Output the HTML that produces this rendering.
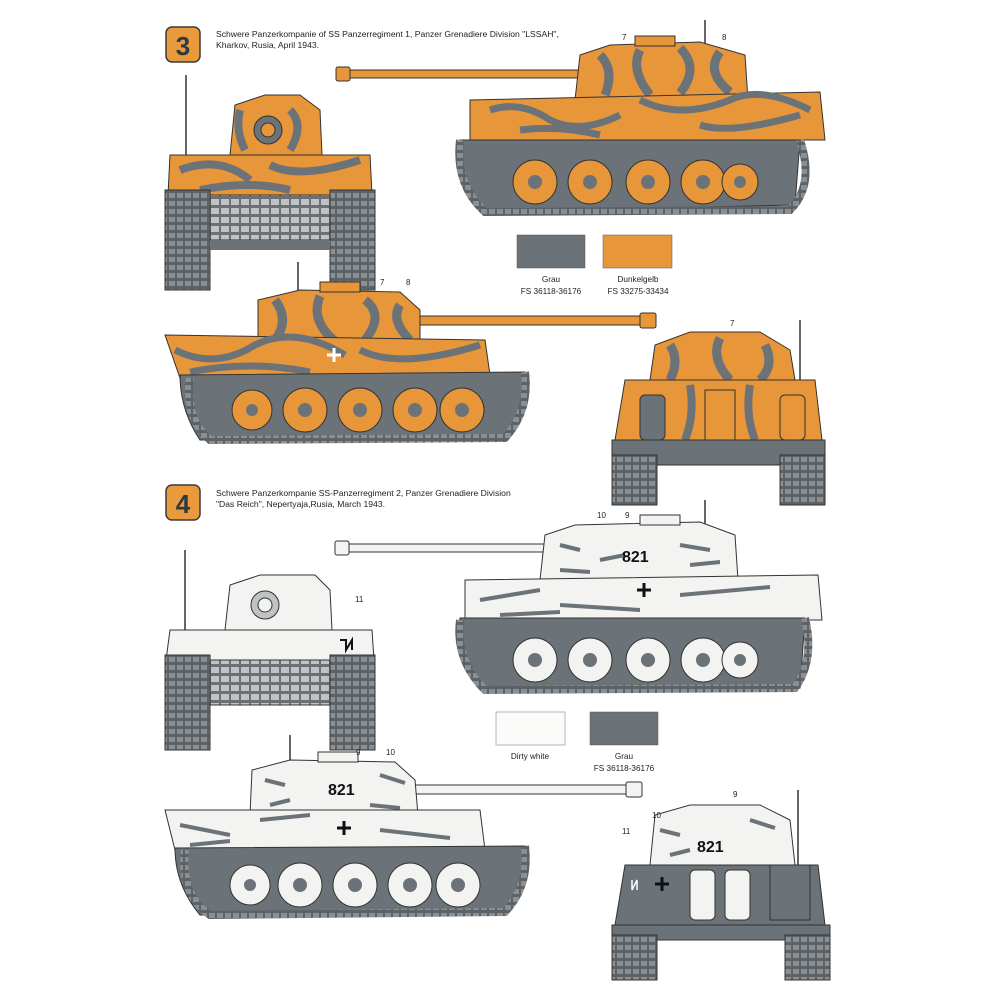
<!DOCTYPE html>
<html><head><meta charset="utf-8"><style>
html,body{margin:0;padding:0;background:#fff}
svg{display:block}
text{font-family:"Liberation Sans",sans-serif}
</style></head><body>
<svg width="1000" height="1000" viewBox="0 0 1000 1000" xmlns="http://www.w3.org/2000/svg">
<defs>
<pattern id="trk" width="8" height="8" patternUnits="userSpaceOnUse"><rect width="8" height="8" fill="#5d6266"/><rect x="1" y="1" width="6" height="5" fill="#8a8f93"/></pattern>
<pattern id="grill" width="10" height="9" patternUnits="userSpaceOnUse"><rect width="10" height="9" fill="#6b7075"/><rect x="1" y="1" width="8" height="6" fill="#bfc3c6"/></pattern>
</defs>

<!-- badge 3 -->
<rect x="166" y="27" width="34" height="35" rx="6" fill="#e89a3c" stroke="#3a3a3a" stroke-width="1.5"/>
<text x="183" y="55" font-size="26" font-weight="bold" fill="#2d3a3f" text-anchor="middle">3</text>
<text x="216" y="37" font-size="8.6" fill="#222">Schwere Panzerkompanie of SS Panzerregiment 1, Panzer Grenadiere Division "LSSAH",</text>
<text x="216" y="48" font-size="8.6" fill="#222">Kharkov, Rusia, April 1943.</text>

<!-- TANK 3 side, gun left -->
<g>
<rect x="340" y="70" width="240" height="8" fill="#e8963a" stroke="#333" stroke-width="1"/>
<rect x="336" y="67" width="14" height="14" rx="2" fill="#e8963a" stroke="#333"/>
<line x1="705" y1="20" x2="705" y2="60" stroke="#333" stroke-width="1.5"/>
<path d="M575 100 L580 55 L610 45 L700 42 L745 55 L748 100 Z" fill="#e8963a" stroke="#333"/>
<rect x="635" y="36" width="40" height="10" fill="#e8963a" stroke="#333"/>
<path d="M600 55 q15 15 5 40 M640 50 q-10 20 10 45 M680 48 q20 20 0 45 M720 52 q-15 20 10 40" stroke="#6b7378" stroke-width="9" fill="none"/>
<path d="M470 100 L820 92 L825 140 L470 140 Z" fill="#e8963a" stroke="#333"/>
<path d="M490 110 q30 -10 60 10 q30 15 70 -5 M640 100 q40 20 90 0 q30 -15 80 10 M520 130 q40 -5 80 5 M700 125 q30 10 100 -10" stroke="#6b7378" stroke-width="7" fill="none"/>
<path d="M460 140 L800 140 L795 205 L480 212 Q455 180 460 140 Z" fill="#6b7378" stroke="#333"/>
<path d="M460 140 Q455 185 485 212 L790 210 Q815 185 800 140" fill="none" stroke="url(#trk)" stroke-width="8"/>
<g fill="#e8963a" stroke="#333"><circle cx="535" cy="182" r="22"/><circle cx="590" cy="182" r="22"/><circle cx="648" cy="182" r="22"/><circle cx="703" cy="182" r="22"/><circle cx="740" cy="182" r="18"/></g>
<g fill="#6b7378"><circle cx="535" cy="182" r="7"/><circle cx="590" cy="182" r="7"/><circle cx="648" cy="182" r="7"/><circle cx="703" cy="182" r="7"/><circle cx="740" cy="182" r="6"/></g>
<text x="622" y="40" font-size="8" fill="#222">7</text><text x="722" y="40" font-size="8" fill="#222">8</text>
</g>

<!-- TANK 3 front -->
<g>
<line x1="186" y1="75" x2="186" y2="155" stroke="#333" stroke-width="1.5"/>
<path d="M230 155 L235 105 L265 95 L300 95 L320 110 L322 155 Z" fill="#e8963a" stroke="#333"/>
<circle cx="268" cy="130" r="14" fill="#6b7378" stroke="#333"/><circle cx="268" cy="130" r="7" fill="#e8963a" stroke="#333"/>
<path d="M290 110 q15 15 0 40 M240 110 q-5 20 5 40" stroke="#6b7378" stroke-width="8" fill="none"/>
<path d="M170 155 L370 155 L372 195 L168 195 Z" fill="#e8963a" stroke="#333"/>
<path d="M180 170 q40 -15 70 10 M270 165 q30 15 90 -5 M200 190 q50 -10 90 0" stroke="#6b7378" stroke-width="8" fill="none"/>
<rect x="210" y="195" width="120" height="45" fill="url(#grill)" stroke="#333"/>
<rect x="165" y="190" width="45" height="100" fill="url(#trk)" stroke="#333"/>
<rect x="330" y="190" width="45" height="100" fill="url(#trk)" stroke="#333"/>
<rect x="210" y="240" width="120" height="10" fill="#6b7378"/>
</g>

<!-- swatches 3 -->
<rect x="517" y="235" width="68" height="33" fill="#6b7378" stroke="#555" stroke-width=".5"/>
<rect x="603" y="235" width="69" height="33" fill="#e8963a" stroke="#555" stroke-width=".5"/>
<g font-size="8.2" fill="#222" text-anchor="middle">
<text x="551" y="282">Grau</text><text x="551" y="294">FS 36118-36176</text>
<text x="638" y="282">Dunkelgelb</text><text x="638" y="294">FS 33275-33434</text>
</g>

<!-- TANK 3 side 2, gun right -->
<g>
<line x1="298" y1="262" x2="298" y2="300" stroke="#333" stroke-width="1.5"/>
<rect x="420" y="316" width="230" height="9" fill="#e8963a" stroke="#333"/>
<rect x="640" y="313" width="16" height="15" rx="2" fill="#e8963a" stroke="#333"/>
<path d="M258 340 L258 300 L300 290 L400 292 L420 310 L420 345 Z" fill="#e8963a" stroke="#333"/>
<rect x="320" y="282" width="40" height="10" fill="#e8963a" stroke="#333"/>
<path d="M275 300 q15 20 0 40 M320 296 q-10 25 15 45 M365 300 q20 15 0 40 M400 305 q-10 15 10 35" stroke="#6b7378" stroke-width="9" fill="none"/>
<path d="M165 335 L485 340 L490 375 L180 378 Z" fill="#e8963a" stroke="#333"/>
<path d="M175 350 q40 20 80 -5 q40 -20 90 10 M360 350 q40 20 120 -5 M190 372 q60 -12 120 0" stroke="#6b7378" stroke-width="7" fill="none"/>
<path d="M180 375 L525 372 Q530 410 505 438 L200 440 Q180 410 180 375 Z" fill="#6b7378" stroke="#333"/>
<path d="M190 378 Q185 420 210 440 L505 438 Q530 410 525 372" fill="none" stroke="url(#trk)" stroke-width="8"/>
<g fill="#e8963a" stroke="#333"><circle cx="252" cy="410" r="20"/><circle cx="305" cy="410" r="22"/><circle cx="360" cy="410" r="22"/><circle cx="415" cy="410" r="22"/><circle cx="462" cy="410" r="22"/></g>
<g fill="#6b7378"><circle cx="252" cy="410" r="6"/><circle cx="305" cy="410" r="7"/><circle cx="360" cy="410" r="7"/><circle cx="415" cy="410" r="7"/><circle cx="462" cy="410" r="7"/></g>
<text x="380" y="285" font-size="8" fill="#222">7</text><text x="406" y="285" font-size="8" fill="#222">8</text>
<path d="M327 355 h14 M334 348 v14" stroke="#fff" stroke-width="3"/>
</g>

<!-- TANK 3 rear -->
<g>
<line x1="800" y1="320" x2="800" y2="400" stroke="#333" stroke-width="1.5"/>
<path d="M650 380 L655 345 L690 332 L760 332 L790 350 L795 380 Z" fill="#e8963a" stroke="#333"/>
<path d="M670 345 q10 15 0 35 M720 338 q-10 20 10 42 M765 345 q10 20 -5 35" stroke="#6b7378" stroke-width="9" fill="none"/>
<path d="M625 380 L815 380 L822 440 L615 440 Z" fill="#e8963a" stroke="#333"/>
<rect x="640" y="395" width="25" height="45" rx="5" fill="#6b7378" stroke="#333"/>
<rect x="780" y="395" width="25" height="45" rx="5" fill="#e8963a" stroke="#333"/>
<rect x="705" y="390" width="30" height="50" fill="#e8963a" stroke="#333"/>
<path d="M690 385 q5 30 -5 55 M750 385 q-5 30 5 55" stroke="#6b7378" stroke-width="8" fill="none"/>
<rect x="612" y="440" width="213" height="25" fill="#6b7378" stroke="#333"/>
<rect x="612" y="455" width="45" height="50" fill="url(#trk)" stroke="#333"/>
<rect x="780" y="455" width="45" height="50" fill="url(#trk)" stroke="#333"/>
<text x="730" y="326" font-size="8" fill="#222">7</text>
</g>

<!-- badge 4 -->
<rect x="166" y="485" width="34" height="35" rx="6" fill="#e89a3c" stroke="#3a3a3a" stroke-width="1.5"/>
<text x="183" y="513" font-size="26" font-weight="bold" fill="#2d3a3f" text-anchor="middle">4</text>
<text x="216" y="496" font-size="8.6" fill="#222">Schwere Panzerkompanie SS-Panzerregiment 2, Panzer Grenadiere Division</text>
<text x="216" y="507" font-size="8.6" fill="#222">"Das Reich", Nepertyaja,Rusia, March 1943.</text>

<!-- TANK 4 side, gun left -->
<g>
<line x1="705" y1="500" x2="705" y2="530" stroke="#333" stroke-width="1.5"/>
<rect x="340" y="544" width="210" height="8" fill="#f3f3f1" stroke="#333"/>
<rect x="335" y="541" width="14" height="14" rx="2" fill="#f3f3f1" stroke="#333"/>
<path d="M540 580 L545 535 L575 525 L700 522 L735 535 L738 580 Z" fill="#f3f3f1" stroke="#333"/>
<rect x="640" y="515" width="40" height="10" fill="#f3f3f1" stroke="#333"/>
<path d="M560 545 l20 5 M600 560 l25 -5 M680 545 l30 5 M690 565 l30 -3 M560 570 l30 2" stroke="#6b7378" stroke-width="4"/>
<text x="622" y="562" font-size="16" font-weight="bold" fill="#111">821</text>
<path d="M465 580 L818 575 L822 620 L465 620 Z" fill="#f3f3f1" stroke="#333"/>
<path d="M480 600 l60 -10 M560 605 l80 5 M680 595 l90 -8 M500 615 l60 -3" stroke="#6b7378" stroke-width="4"/>
<path d="M637 590 h14 M644 583 v14" stroke="#111" stroke-width="3"/>
<path d="M460 618 L805 618 L800 688 L480 690 Q455 655 460 618 Z" fill="#6b7378" stroke="#333"/>
<path d="M460 620 Q455 660 485 690 L795 688 Q815 660 805 618" fill="none" stroke="url(#trk)" stroke-width="8"/>
<g fill="#f3f3f1" stroke="#333"><circle cx="535" cy="660" r="22"/><circle cx="590" cy="660" r="22"/><circle cx="648" cy="660" r="22"/><circle cx="703" cy="660" r="22"/><circle cx="740" cy="660" r="18"/></g>
<g fill="#6b7378"><circle cx="535" cy="660" r="7"/><circle cx="590" cy="660" r="7"/><circle cx="648" cy="660" r="7"/><circle cx="703" cy="660" r="7"/><circle cx="740" cy="660" r="6"/></g>
<text x="597" y="518" font-size="8" fill="#222">10</text><text x="625" y="518" font-size="8" fill="#222">9</text>
</g>

<!-- TANK 4 front -->
<g>
<line x1="185" y1="550" x2="185" y2="630" stroke="#333" stroke-width="1.5"/>
<path d="M225 630 L230 585 L260 575 L315 575 L330 590 L332 630 Z" fill="#f3f3f1" stroke="#333"/>
<circle cx="265" cy="605" r="14" fill="#bfc3c6" stroke="#333"/><circle cx="265" cy="605" r="7" fill="#f3f3f1" stroke="#333"/>
<path d="M170 630 L372 630 L374 660 L166 660 Z" fill="#f3f3f1" stroke="#333"/>
<path d="M340 640 l6 0 l0 10 l6 -10 l0 10" stroke="#111" stroke-width="2" fill="none"/>
<text x="355" y="602" font-size="8" fill="#222">11</text>
<rect x="210" y="660" width="120" height="45" fill="url(#grill)" stroke="#333"/>
<rect x="165" y="655" width="45" height="95" fill="url(#trk)" stroke="#333"/>
<rect x="330" y="655" width="45" height="95" fill="url(#trk)" stroke="#333"/>
</g>

<!-- swatches 4 -->
<rect x="496" y="712" width="69" height="33" fill="#fbfbfa" stroke="#999" stroke-width=".7"/>
<rect x="590" y="712" width="68" height="33" fill="#6b7378" stroke="#555" stroke-width=".5"/>
<g font-size="8.2" fill="#222" text-anchor="middle">
<text x="530" y="759">Dirty white</text>
<text x="624" y="759">Grau</text><text x="624" y="771">FS 36118-36176</text>
</g>

<!-- TANK 4 side 2, gun right -->
<g>
<line x1="290" y1="735" x2="290" y2="770" stroke="#333" stroke-width="1.5"/>
<rect x="415" y="785" width="220" height="9" fill="#f3f3f1" stroke="#333"/>
<rect x="626" y="782" width="16" height="15" rx="2" fill="#f3f3f1" stroke="#333"/>
<path d="M250 815 L252 770 L290 760 L395 762 L415 780 L418 815 Z" fill="#f3f3f1" stroke="#333"/>
<rect x="318" y="752" width="40" height="10" fill="#f3f3f1" stroke="#333"/>
<path d="M265 780 l20 5 M380 775 l25 8 M270 805 l20 -5 M370 805 l30 3" stroke="#6b7378" stroke-width="4"/>
<text x="328" y="795" font-size="16" font-weight="bold" fill="#111">821</text>
<path d="M165 810 L480 810 L485 850 L175 850 Z" fill="#f3f3f1" stroke="#333"/>
<path d="M180 825 l50 10 M260 820 l50 -5 M380 830 l70 8 M190 845 l40 -4" stroke="#6b7378" stroke-width="4"/>
<path d="M337 828 h14 M344 821 v14" stroke="#111" stroke-width="3"/>
<path d="M175 848 L525 846 Q530 885 505 912 L200 915 Q175 885 175 848 Z" fill="#6b7378" stroke="#333"/>
<path d="M185 850 Q180 895 210 915 L505 912 Q530 885 525 846" fill="none" stroke="url(#trk)" stroke-width="8"/>
<g fill="#f3f3f1" stroke="#333"><circle cx="250" cy="885" r="20"/><circle cx="300" cy="885" r="22"/><circle cx="355" cy="885" r="22"/><circle cx="410" cy="885" r="22"/><circle cx="458" cy="885" r="22"/></g>
<g fill="#6b7378"><circle cx="250" cy="885" r="6"/><circle cx="300" cy="885" r="7"/><circle cx="355" cy="885" r="7"/><circle cx="410" cy="885" r="7"/><circle cx="458" cy="885" r="7"/></g>
<text x="356" y="755" font-size="8" fill="#222">9</text><text x="386" y="755" font-size="8" fill="#222">10</text>
</g>

<!-- TANK 4 rear -->
<g>
<line x1="798" y1="790" x2="798" y2="870" stroke="#333" stroke-width="1.5"/>
<path d="M650 865 L655 815 L690 805 L760 805 L790 820 L795 865 Z" fill="#f3f3f1" stroke="#333"/>
<path d="M660 830 l20 5 M750 820 l25 8 M670 855 l20 -5" stroke="#6b7378" stroke-width="4"/>
<text x="697" y="852" font-size="16" font-weight="bold" fill="#111">821</text>
<path d="M625 865 L818 865 L825 925 L615 925 Z" fill="#6b7378" stroke="#333"/>
<rect x="690" y="870" width="25" height="50" rx="5" fill="#f3f3f1" stroke="#333"/>
<rect x="725" y="870" width="25" height="50" rx="5" fill="#f3f3f1" stroke="#333"/>
<rect x="770" y="865" width="40" height="55" fill="#6b7378" stroke="#333"/>
<path d="M655 884 h14 M662 877 v14" stroke="#111" stroke-width="3"/>
<path d="M632 880 l0 10 l5 -10 l0 10" stroke="#fff" stroke-width="1.5" fill="none"/>
<rect x="612" y="925" width="218" height="15" fill="#6b7378" stroke="#333"/>
<rect x="612" y="935" width="45" height="45" fill="url(#trk)" stroke="#333"/>
<rect x="785" y="935" width="45" height="45" fill="url(#trk)" stroke="#333"/>
<text x="733" y="797" font-size="8" fill="#222">9</text><text x="652" y="818" font-size="8" fill="#222">10</text><text x="622" y="834" font-size="8" fill="#222">11</text>
</g>
</svg>
</body></html>
